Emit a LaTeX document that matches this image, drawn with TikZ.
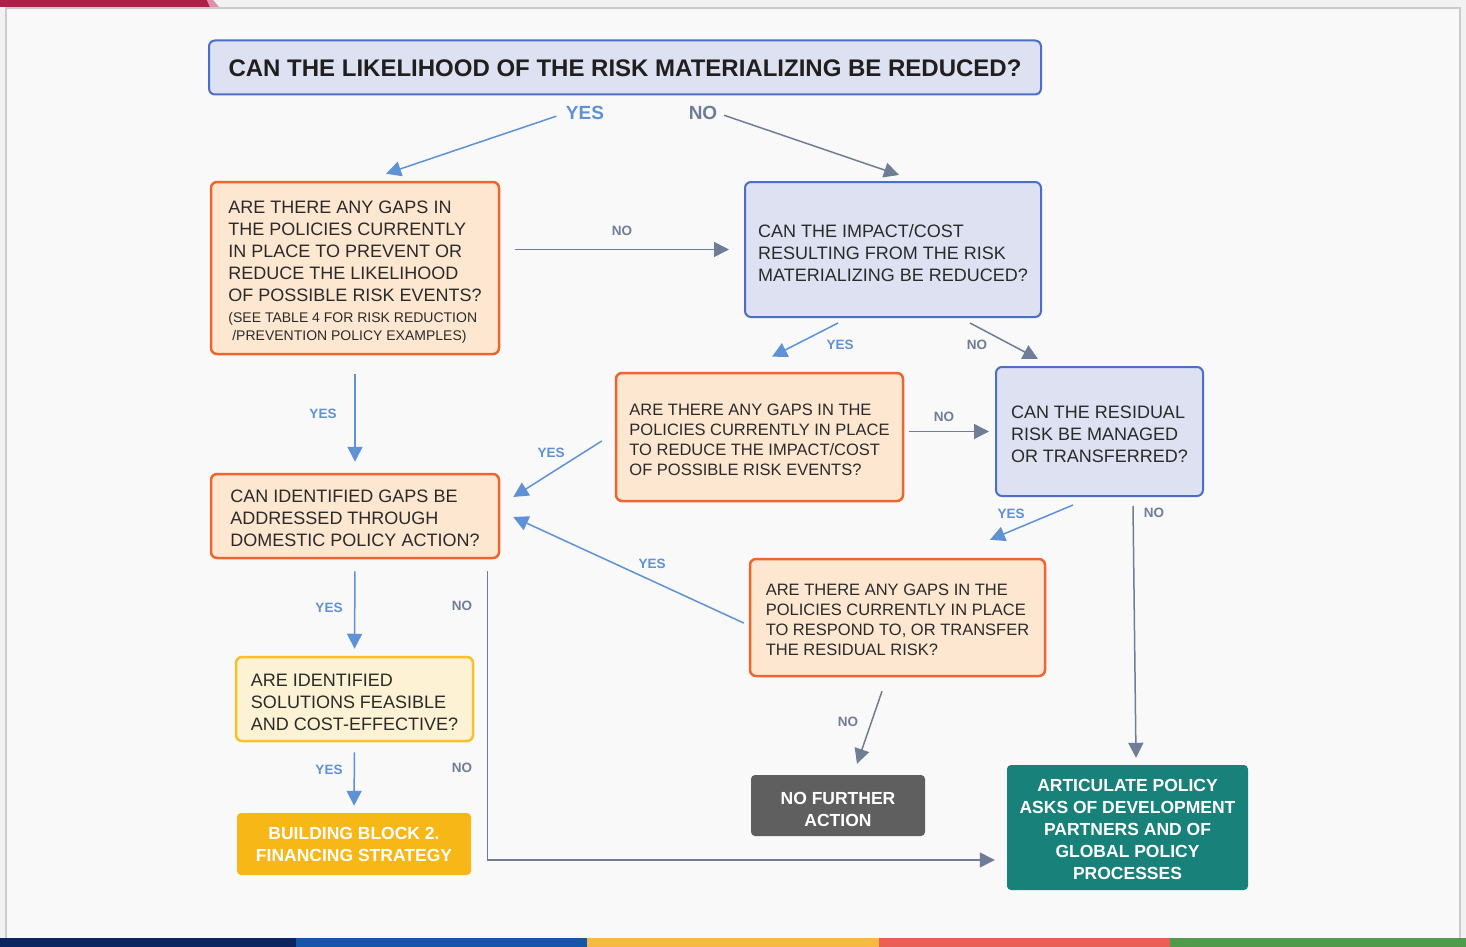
\documentclass[tikz,border=0pt]{standalone}
\usepackage{fontspec}
\setmainfont{Liberation Sans}
\usetikzlibrary{arrows.meta,calc}
\definecolor{pagebg}{HTML}{F2F2F3}
\definecolor{panelbg}{HTML}{F9F9F9}
\definecolor{panelline}{HTML}{C8CBD0}
\definecolor{redbar}{HTML}{B01F48}
\definecolor{pinkbar}{HTML}{E090A8}
\definecolor{barA}{HTML}{0B2462}
\definecolor{barB}{HTML}{1457AA}
\definecolor{barC}{HTML}{F8B944}
\definecolor{barD}{HTML}{E95F53}
\definecolor{barE}{HTML}{4F9A4B}
\definecolor{bluefill}{HTML}{DDE1F1}
\definecolor{blueline}{HTML}{4B6FC6}
\definecolor{orfill}{HTML}{FDE7D0}
\definecolor{orline}{HTML}{EF6530}
\definecolor{lyfill}{HTML}{FDF2D4}
\definecolor{lyline}{HTML}{F6C12C}
\definecolor{yfill}{HTML}{F7B717}
\definecolor{gfill}{HTML}{5F5F5F}
\definecolor{tfill}{HTML}{18817A}
\definecolor{txt}{HTML}{2A2A2A}
\definecolor{yesc}{HTML}{5F91D5}
\definecolor{noc}{HTML}{6F7E96}
\newcommand{\smtxt}{\fontsize{14}{17}\selectfont}
\newcommand{\fl}[1]{\rule{0pt}{#1pt}}
\tikzset{
  box/.style={rounded corners=6pt, align=left, inner sep=0pt, text=txt,
    font=\fontsize{18}{22}\selectfont},
  qbox/.style={box, draw=blueline, fill=bluefill, line width=2pt},
  obox/.style={box, draw=orline, fill=orfill, line width=2.5pt},
  obsm/.style={obox, font=\fontsize{16.5}{20}\selectfont},
  lybox/.style={box, draw=lyline, fill=lyfill, line width=2.5pt},
  endbox/.style={rounded corners=4pt, align=center, inner sep=0pt, text=white,
    font=\bfseries\fontsize{17.5}{22}\selectfont},
  arr/.style={line width=1.5pt, -{Triangle[length=15pt,width=15pt]}},
  yarr/.style={arr, draw=yesc},
  narr/.style={arr, draw=noc},
  ylab/.style={text=yesc, inner sep=0pt, font=\bfseries\fontsize{13.5}{16}\selectfont},
  nlab/.style={text=noc, inner sep=0pt, font=\bfseries\fontsize{13.5}{16}\selectfont},
  biglab/.style={inner sep=0pt, font=\bfseries\fontsize{19}{22}\selectfont},
}
\begin{document}
\begin{tikzpicture}[x=1pt,y=-1pt]
\useasboundingbox (0,0) rectangle (1466,947);
% background
\fill[pagebg] (0,0) rectangle (1466,947);
\fill[panelbg] (6,8) rectangle (1460,938);
\draw[panelline, line width=1.5pt] (6,938) -- (6,8) -- (1460,8) -- (1460,938);
\fill[redbar] (0,0) -- (207,0) -- (210,7) -- (0,7) -- cycle;
\fill[pinkbar] (207,0) -- (213,0) -- (219,7) -- (210,7) -- cycle;
\fill[barA] (0,938) rectangle (296,947);
\fill[barB] (296,938) rectangle (587,947);
\fill[barC] (587,938) rectangle (879,947);
\fill[barD] (879,938) rectangle (1170,947);
\fill[barE] (1170,938) rectangle (1466,947);

% title
\node[qbox, minimum width=832pt, minimum height=54pt, align=center, text=black!88,
  font=\bfseries\fontsize{24}{28}\selectfont] (T) at (625,67.5)
  {\fl{19}CAN THE LIKELIHOOD OF THE RISK MATERIALIZING BE REDUCED?};
\node[biglab, text=yesc] (tyes) at (585,113) {YES};
\node[biglab, text=noc] (tno) at (703,113) {NO};

% boxes
\node[obox, minimum width=288pt, minimum height=172pt] (A) at (355,268)
  {\fl{20.3}ARE THERE ANY GAPS IN\\THE POLICIES CURRENTLY\\IN PLACE TO PREVENT OR\\REDUCE THE LIKELIHOOD\\OF POSSIBLE RISK EVENTS?\\[-1pt]
   \smtxt (SEE TABLE 4 FOR RISK REDUCTION\\[-4pt] \smtxt\ /PREVENTION POLICY EXAMPLES)};
\node[qbox, minimum width=296pt, minimum height=135pt] (B) at (893,249.5)
  {\fl{20.3}CAN THE IMPACT/COST\\RESULTING FROM THE RISK\\MATERIALIZING BE REDUCED?};
\node[obsm, minimum width=287pt, minimum height=128pt] (C) at (759.5,437)
  {\fl{16.9}ARE THERE ANY GAPS IN THE\\POLICIES CURRENTLY IN PLACE\\TO REDUCE THE IMPACT/COST\\OF POSSIBLE RISK EVENTS?};
\node[qbox, minimum width=207pt, minimum height=129pt] (D) at (1099.5,431.5)
  {\fl{18.3}CAN THE RESIDUAL\\RISK BE MANAGED\\OR TRANSFERRED?};
\node[obox, minimum width=288pt, minimum height=84pt] (E) at (355,516)
  {\fl{16.3}CAN IDENTIFIED GAPS BE\\ADDRESSED THROUGH\\DOMESTIC POLICY ACTION?};
\node[obsm, minimum width=295pt, minimum height=117pt] (F) at (897.5,617.5)
  {\fl{16.9}ARE THERE ANY GAPS IN THE\\POLICIES CURRENTLY IN PLACE\\TO RESPOND TO, OR TRANSFER\\THE RESIDUAL RISK?};
\node[endbox, fill=gfill, minimum width=174pt, minimum height=61pt] (G) at (838,805.5)
  {\fl{19.8}NO FURTHER\\ACTION};
\node[endbox, fill=tfill, minimum width=241pt, minimum height=125pt] (H) at (1127.5,827.5)
  {\fl{16.5}ARTICULATE POLICY\\ASKS OF DEVELOPMENT\\PARTNERS AND OF\\GLOBAL POLICY\\PROCESSES};
\node[lybox, minimum width=237pt, minimum height=84pt] (I) at (354.5,699)
  {\fl{18.3}ARE IDENTIFIED\\SOLUTIONS FEASIBLE\\AND COST-EFFECTIVE?};
\node[endbox, fill=yfill, minimum width=234pt, minimum height=62pt] (J) at (354,844)
  {BUILDING BLOCK 2.\\FINANCING STRATEGY};

% connectors
\draw[yarr, shorten <=10pt] (tyes.west) -- ($(A.north)+(31,-7)$);
\draw[narr, shorten <=7pt] (tno.east) -- ($(B.north)+(6,-6)$);
\draw[narr, shorten <=15pt, shorten >=15pt] (A.east |- B.west) -- (B.west);
\draw[yarr, shorten <=19pt, shorten >=11pt] (A.south) -- (E.north);
\draw[yarr] ($(B.south)+(-55,5)$) -- ($(C.north)+(12.5,-15)$);
\draw[narr] ($(B.south)+(77,5)$) -- ($(D.north)+(-61.5,-7)$);
\draw[narr, shorten <=5pt, shorten >=6pt] (C.east |- D.west) -- (D.west);
\draw[yarr] ($(C.west)+(-13,4)$) -- ($(E.east)+(13,-19)$);
\draw[yarr] ($(F.west)+(-5,5.5)$) -- ($(E.east)+(13,1)$);
\draw[yarr] ($(D.south)+(-26.5,8)$) -- ($(F.north)+(92.5,-18)$);
\draw[narr] ($(D.south)+(33.5,9)$) -- ($(H.north)+(8.5,-7)$);
\draw[narr] ($(F.south)+(-15.5,14)$) -- ($(G.north)+(19,-11)$);
\draw[yarr, shorten <=12pt, shorten >=7pt] (E.south) -- (I.north);
\draw[yarr, shorten <=10pt, shorten >=7pt] (I.south) -- (J.north);
\draw[narr] ($(E.south east)+(-13,12)$) |- ($(H.west)+(-12,32.5)$);

% labels
\node[nlab] (l1) at (622,231) {NO};
\node[ylab] (l2) at (323,414) {YES};
\node[ylab] (l3) at (840,345) {YES};
\node[nlab] (l4) at (977,345) {NO};
\node[nlab] (l5) at (944,417) {NO};
\node[ylab] (l6) at (551,453) {YES};
\node[ylab] (l7) at (652,564) {YES};
\node[ylab] (l8) at (1011,514) {YES};
\node[nlab] (l9) at (1154,513) {NO};
\node[nlab] (l10) at (848,722) {NO};
\node[ylab] (l11) at (329,608) {YES};
\node[nlab] (l12) at (462,606) {NO};
\node[ylab] (l13) at (329,770) {YES};
\node[nlab] (l14) at (462,768) {NO};
\end{tikzpicture}
\end{document}
